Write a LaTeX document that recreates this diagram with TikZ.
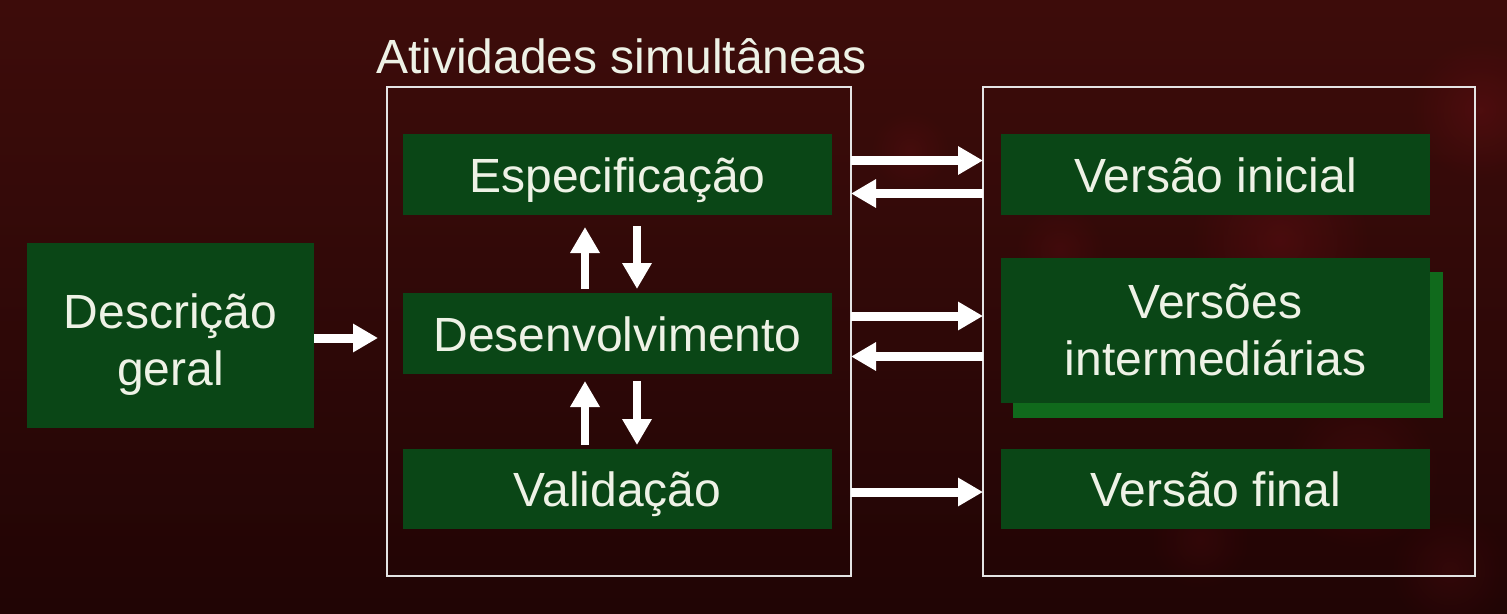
\documentclass[tikz,border=0pt]{standalone}
\usepackage{fontspec}
\setmainfont{Liberation Sans}
\usetikzlibrary{arrows.meta,calc,fadings}
\definecolor{boxgreen}{RGB}{10,70,22}
\definecolor{shadowgreen}{RGB}{16,106,28}
\definecolor{txt}{RGB}{238,242,230}
\definecolor{framec}{RGB}{228,228,228}
\definecolor{blob}{RGB}{125,18,26}
\pgfdeclareverticalshading{bgshade}{100bp}{rgb(0bp)=(0.07,0.01,0.01); rgb(30bp)=(0.14,0.02,0.02); rgb(60bp)=(0.21,0.04,0.035); rgb(80bp)=(0.25,0.05,0.04); rgb(93bp)=(0.30,0.08,0.06); rgb(97bp)=(0.24,0.06,0.05); rgb(100bp)=(0.14,0.04,0.03)}
\tikzfading[name=softfade, inner color=transparent!0, outer color=transparent!100]
\newcommand\diafont{\fontsize{48}{57}\selectfont}
\tikzset{
  frame/.style={draw=framec, line width=2pt, inner sep=0pt, outer sep=0pt},
  gbox/.style={fill=boxgreen, text=txt, inner sep=0pt, outer sep=0pt, font=\diafont,
    minimum width=429pt, minimum height=81pt},
  oneline/.style={text height=35pt, text depth=0pt},
  bigarrow/.style={draw=white, line width=9pt, -{Triangle[width=27pt,length=25pt]}},
  varrow/.style={draw=white, line width=8pt, -{Triangle[width=28pt,length=26pt]}},
  fuzzy/.style={fill=blob, path fading=softfade}
}
\begin{document}
\begin{tikzpicture}[x=1pt,y=-1pt]
\useasboundingbox (0,0) rectangle (1507,613);
\shade[shading=bgshade] (0,0) rectangle (1507,613);
% faint background bokeh
\fill[fuzzy, opacity=0.30] (1280,240) circle (90);
\fill[fuzzy, opacity=0.30] (1480,110) circle (70);
\fill[fuzzy, opacity=0.22] (1130,360) circle (60);
\fill[fuzzy, opacity=0.22] (1360,470) circle (80);
\fill[fuzzy, opacity=0.20] (910,150) circle (40);
\fill[fuzzy, opacity=0.20] (1060,250) circle (45);
\fill[fuzzy, opacity=0.18] (1450,570) circle (60);
\fill[fuzzy, opacity=0.15] (1200,540) circle (50);

% frames
\node[frame, minimum width=464pt, minimum height=489pt] (frameL) at (619,331.5) {};
\node[frame, minimum width=492pt, minimum height=489pt] (frameR) at (1229,331.5) {};
\node[text=txt, font=\diafont, anchor=base] (title) at (621.5,73) {Atividades simultâneas};

% left box
\node[gbox, minimum width=287pt, minimum height=185pt, align=center] (desc) at (170.5,335.5) {\rule{0pt}{53pt}Descrição\\geral};

% activities
\node[gbox, oneline] (esp) at (617.5,174.5) {Especificação};
\node[gbox, oneline] (dev) at (617.5,333.5) {Desenvolvimento};
\node[gbox, oneline, minimum height=80pt] (val) at (617.5,489) {Validação};

% versions
\node[gbox, oneline] (vi) at (1215.5,174.5) {Versão inicial};
\node[fill=shadowgreen, inner sep=0pt, outer sep=0pt, minimum width=430pt, minimum height=146pt] (vintshadow) at (1227.5,345) {};
\node[gbox, minimum height=145pt, align=center] (vint) at (1215.5,330.5) {Versões\\intermediárias};
\node[gbox, oneline, minimum height=80pt] (vf) at (1215.5,489) {Versão final};

% arrows
\draw[bigarrow] ($(desc.east)+(0,2.5)$) -- ($(frameL.west |- desc.east)+(-9,2.5)$);

\draw[bigarrow] ($(frameL.east |- esp.center)+(0,-14)$) -- ($(frameR.west |- esp.center)+(0,-14)$);
\draw[bigarrow] ($(frameR.west |- esp.center)+(0,19)$) -- ($(frameL.east |- esp.center)+(0,19)$);
\draw[bigarrow] ($(frameL.east |- dev.center)+(0,-17.5)$) -- ($(frameR.west |- dev.center)+(0,-17.5)$);
\draw[bigarrow] ($(frameR.west |- dev.center)+(0,23)$) -- ($(frameL.east |- dev.center)+(0,23)$);
\draw[bigarrow] ($(frameL.east |- val.center)+(0,3)$) -- ($(frameR.west |- val.center)+(0,3)$);

\draw[varrow] ($(dev.north)+(-32.5,-4)$) -- ($(esp.south)+(-32.5,12)$);
\draw[varrow] ($(esp.south)+(19.5,11)$) -- ($(dev.north)+(19.5,-4)$);
\draw[varrow] ($(val.north)+(-32.5,-4)$) -- ($(dev.south)+(-32.5,7)$);
\draw[varrow] ($(dev.south)+(19.5,7)$) -- ($(val.north)+(19.5,-4)$);
\end{tikzpicture}
\end{document}
